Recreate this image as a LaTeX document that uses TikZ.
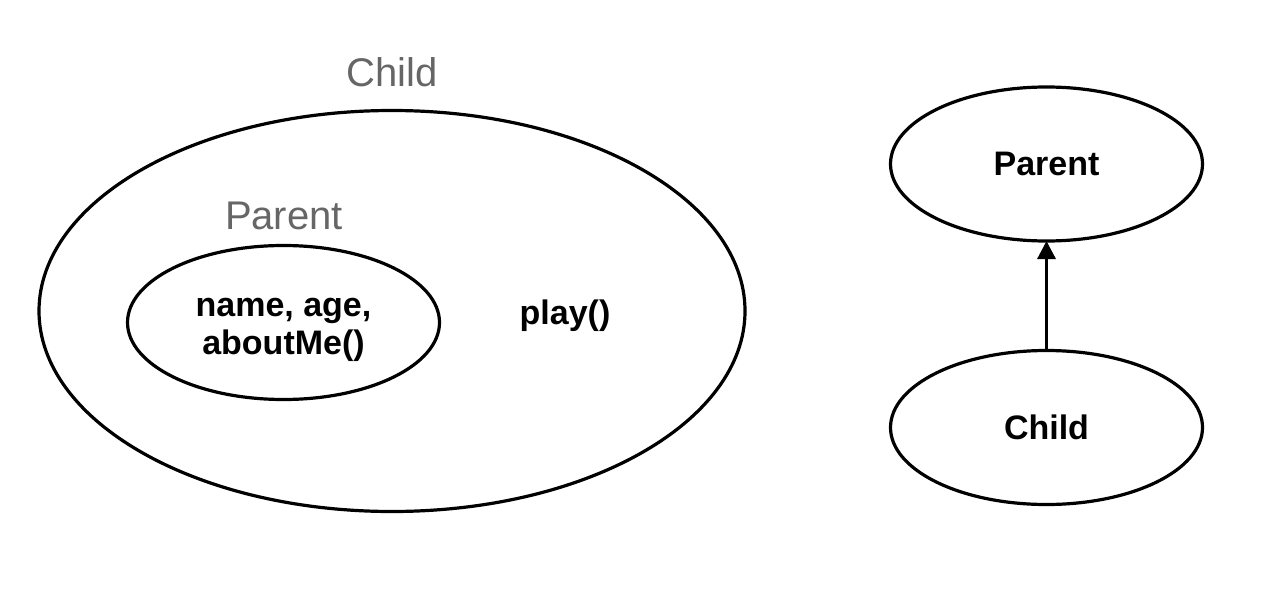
\documentclass[tikz,border=0pt]{standalone}
\usepackage{fontspec}
\setmainfont{Liberation Sans}
\usepackage{xcolor}
\usetikzlibrary{shapes.geometric, arrows.meta}
\definecolor{labelgray}{RGB}{102,102,102}

\begin{document}
\begin{tikzpicture}[x=1pt,y=-1pt,
    blob/.style={draw,ellipse,line width=3.2pt,inner sep=0pt,outer sep=0pt},
    boldtext/.style={font=\fontsize{34}{38}\selectfont\bfseries,align=center},
    setlabel/.style={font=\fontsize{40}{44}\selectfont,text=labelgray}]
    \useasboundingbox (0,0) rectangle (1282,602);

    % the child set with the parent set inside it
    \node [blob,minimum width=706pt,minimum height=401pt] (childset) at (392,311) {};
    \node [setlabel] (childname) at (392,72) {Child};
    \node [blob,minimum width=312pt,minimum height=154pt] (parentset) at (283.5,322.5) {};
    \node [boldtext] (members) at (283.5,330) {name, age,\\aboutMe()};
    \node [setlabel] (parentname) at (284,216) {Parent};
    \node [boldtext] (play) at (565,316) {play()};

    % the inheritance arrow
    \node [blob,minimum width=312pt,minimum height=154pt,boldtext] (parent) at (1046.5,164) {Parent};
    \node [blob,minimum width=312pt,minimum height=154pt,boldtext] (child) at (1046.5,427.5) {Child};
    \draw [line width=3.2pt,-{Triangle[length=18pt,width=18pt]}] (child.north) -- (parent.south);
\end{tikzpicture}
\end{document}
